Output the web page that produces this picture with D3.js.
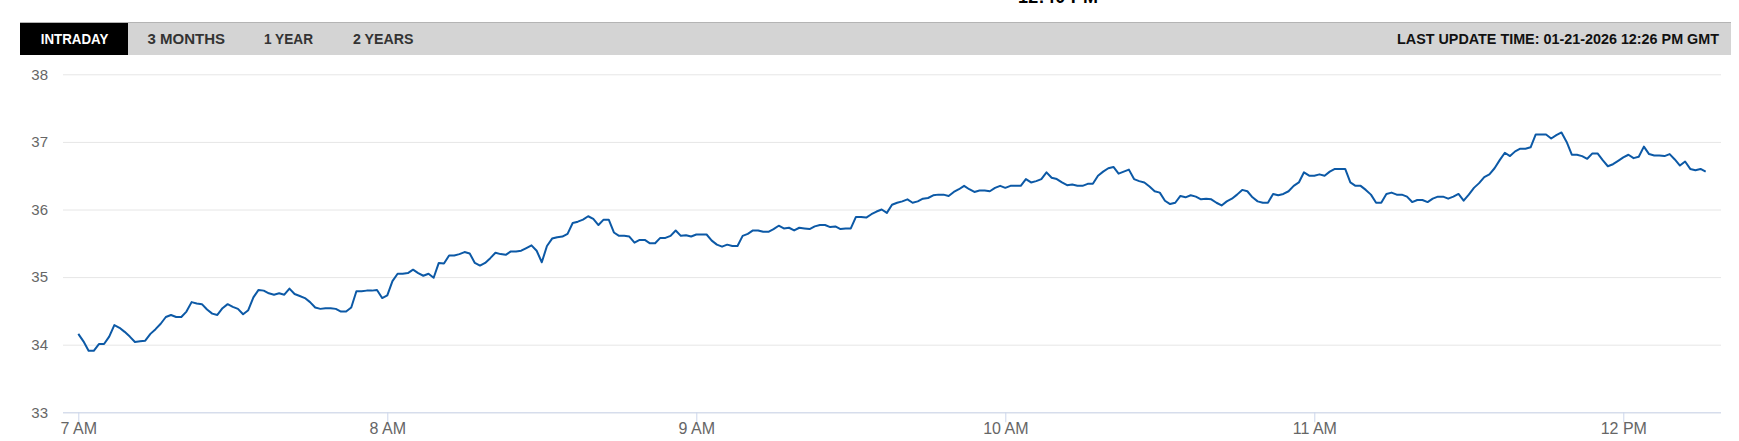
<!DOCTYPE html>
<html>
<head>
<meta charset="utf-8">
<script src="https://cdn.jsdelivr.net/npm/d3@7"></script>
<style>
	body { margin: 0; background: #fff; }
	svg { display: block; font-family: Arial, "Liberation Sans", sans-serif; }
	.grid line { stroke: #e6e6e6; }
	.grid text { fill: #666; font-size: 15px; }
	.x-axis text { fill: #666; font-size: 16px; }
	.x-axis path, .x-axis line { stroke: #ccd6eb; }
	.tab { font-weight: bold; font-size: 14px; }
</style>
</head>
<body>
<script>
// one price per minute, starting 7:00 AM
const H07 = [34.16, 34.05, 33.91, 33.91, 34.01, 34.01, 34.12, 34.29, 34.25, 34.19,
	34.12, 34.04, 34.05, 34.06, 34.16, 34.23, 34.31, 34.41, 34.44, 34.41,
	34.41, 34.49, 34.63, 34.61, 34.60, 34.52, 34.46, 34.44, 34.54, 34.60,
	34.56, 34.53, 34.45, 34.51, 34.70, 34.81, 34.80, 34.76, 34.74, 34.76,
	34.74, 34.83, 34.75, 34.72, 34.69, 34.63, 34.55, 34.53, 34.54, 34.54,
	34.53, 34.49, 34.49, 34.55, 34.79, 34.79, 34.80, 34.80, 34.81, 34.69];
const H08 = [34.73, 34.94, 35.05, 35.05, 35.06, 35.11, 35.06, 35.02, 35.05, 34.99,
	35.21, 35.20, 35.32, 35.32, 35.34, 35.37, 35.35, 35.21, 35.17, 35.21,
	35.28, 35.36, 35.34, 35.33, 35.38, 35.38, 35.39, 35.43, 35.47, 35.39,
	35.22, 35.46, 35.57, 35.59, 35.60, 35.64, 35.80, 35.82, 35.85, 35.90,
	35.86, 35.77, 35.85, 35.85, 35.66, 35.61, 35.61, 35.60, 35.51, 35.55,
	35.55, 35.50, 35.50, 35.58, 35.58, 35.61, 35.69, 35.61, 35.62, 35.60];
const H09 = [35.63, 35.63, 35.63, 35.54, 35.48, 35.45, 35.48, 35.46, 35.46, 35.61,
	35.64, 35.69, 35.69, 35.67, 35.67, 35.71, 35.76, 35.72, 35.73, 35.69,
	35.73, 35.72, 35.71, 35.75, 35.77, 35.77, 35.74, 35.75, 35.71, 35.72,
	35.72, 35.89, 35.89, 35.88, 35.93, 35.97, 36.00, 35.95, 36.07, 36.10,
	36.12, 36.15, 36.10, 36.12, 36.16, 36.17, 36.21, 36.22, 36.22, 36.20,
	36.26, 36.30, 36.35, 36.30, 36.26, 36.28, 36.28, 36.27, 36.32, 36.35];
const H10 = [36.32, 36.35, 36.35, 36.35, 36.45, 36.40, 36.42, 36.45, 36.55, 36.47,
	36.45, 36.40, 36.36, 36.37, 36.35, 36.35, 36.38, 36.38, 36.50, 36.56,
	36.61, 36.63, 36.53, 36.56, 36.59, 36.45, 36.42, 36.40, 36.34, 36.27,
	36.25, 36.13, 36.08, 36.10, 36.20, 36.18, 36.21, 36.19, 36.15, 36.16,
	36.15, 36.10, 36.06, 36.12, 36.16, 36.22, 36.29, 36.27, 36.18, 36.12,
	36.10, 36.10, 36.23, 36.21, 36.23, 36.27, 36.35, 36.40, 36.55, 36.50];
const H11 = [36.50, 36.52, 36.50, 36.56, 36.60, 36.60, 36.60, 36.40, 36.35, 36.35,
	36.29, 36.22, 36.10, 36.10, 36.23, 36.25, 36.22, 36.22, 36.19, 36.11,
	36.14, 36.14, 36.11, 36.16, 36.19, 36.19, 36.16, 36.19, 36.23, 36.13,
	36.22, 36.32, 36.39, 36.48, 36.52, 36.61, 36.73, 36.84, 36.79, 36.86,
	36.90, 36.90, 36.92, 37.11, 37.11, 37.11, 37.05, 37.10, 37.14, 37.00,
	36.81, 36.81, 36.79, 36.75, 36.83, 36.83, 36.73, 36.64, 36.67, 36.72];
const H12 = [36.77, 36.81, 36.76, 36.78, 36.93, 36.82, 36.80, 36.80, 36.79, 36.82,
	36.74, 36.65, 36.71, 36.60, 36.58, 36.60, 36.56];

const Y_TICKS = [33, 34, 35, 36, 37, 38];
const TABS = ['INTRADAY', '3 MONTHS', '1 YEAR', '2 YEARS'];
const UPDATED = 'LAST UPDATE TIME: 01-21-2026 12:26 PM GMT';
const CLOCK = '12:40 PM';

let prices = [].concat(H07, H08, H09, H10, H11, H12);
let start = new Date(2026, 0, 21, 7, 0);
let points = prices.map((p, i) => ({ time: d3.timeMinute.offset(start, i), price: p }));

let svg = d3.select('body').append('svg')
	.attr('width', 1739)
	.attr('height', 441);

// header strip (the clock above is cut by the top edge, as in the page)
svg.append('text')
	.attr('x', 1018).attr('y', 3)
	.attr('textLength', 80)
	.attr('font-weight', 'bold')
	.attr('font-size', 18)
	.text(CLOCK);

svg.append('rect')
	.attr('x', 20).attr('y', 22)
	.attr('width', 1711).attr('height', 33)
	.attr('fill', '#d4d4d4');
svg.append('rect')
	.attr('x', 20).attr('y', 22)
	.attr('width', 108).attr('height', 33)
	.attr('fill', '#000');
svg.append('line')
	.attr('x1', 20).attr('x2', 1731)
	.attr('y1', 22.5).attr('y2', 22.5)
	.attr('stroke', '#b4b4b4');

const TAB_X = [40.7, 147.5, 264, 353];
const TAB_W = [67.6, 77.5, 49, 60.5];
svg.selectAll('.tab')
	.data(TABS)
	.enter()
	.append('text')
	.attr('class', 'tab')
	.attr('x', (d, i) => TAB_X[i])
	.attr('y', 44.3)
	.attr('textLength', (d, i) => TAB_W[i])
	.attr('lengthAdjust', 'spacingAndGlyphs')
	.attr('fill', (d, i) => i == 0 ? '#fff' : '#333')
	.text(d => d);

svg.append('text')
	.attr('class', 'tab')
	.attr('x', 1397).attr('y', 44.3)
	.attr('textLength', 322)
	.attr('lengthAdjust', 'spacingAndGlyphs')
	.attr('fill', '#111')
	.text(UPDATED);

// chart
const left = 63, right = 1721;
let x = d3.scaleTime()
	.domain([start, d3.timeMinute.offset(start, 316)])
	.range([78.3, 78.3 + 316 * 309 / 60]);
let y = d3.scaleLinear()
	.domain([33, 38])
	.range([412.3, 74.3]);

svg.append('g')
	.attr('class', 'grid')
	.attr('transform', `translate(${left}, 0)`)
	.call(d3.axisLeft(y).tickValues(Y_TICKS).tickSize(-(right - left)).tickPadding(15).tickFormat(d3.format('d')))
	.call(g => g.select('.domain').remove())
	.call(g => g.selectAll('text').attr('font-family', null).attr('font-size', null));

svg.append('g')
	.attr('class', 'x-axis')
	.attr('transform', 'translate(0, 412.3)')
	.call(d3.axisBottom(x).ticks(d3.timeHour.every(1)).tickSize(10).tickSizeOuter(0).tickPadding(0).tickFormat(d3.timeFormat('%-I %p')))
	.call(g => g.select('.domain').attr('d', `M${left},0.5H${right}`))
	.call(g => g.selectAll('text').attr('font-family', null).attr('font-size', null));

svg.append('path')
	.datum(points)
	.attr('fill', 'none')
	.attr('stroke', '#0c59a6')
	.attr('stroke-width', 2)
	.attr('stroke-linejoin', 'round')
	.attr('d', d3.line().x(d => x(d.time)).y(d => y(d.price)));
</script>
</body>
</html>
